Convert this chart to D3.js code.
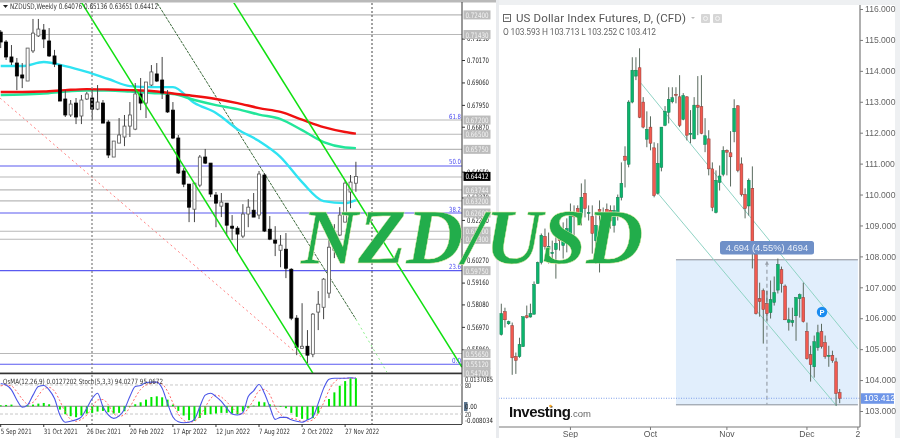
<!DOCTYPE html>
<html><head><meta charset="utf-8">
<script src="https://cdn.jsdelivr.net/npm/d3@7/dist/d3.min.js"></script>
<style>html,body{margin:0;padding:0;background:#fff;overflow:hidden}svg{display:block;filter:blur(0.35px)}</style>
</head><body><svg id="c" width="900" height="438"></svg>
<script>
// ---------- NZDUSD weekly (left) ----------
const nzdTitle = "NZDUSD,Weekly  0.64076 0.65136 0.63651 0.64412";
const nzdDates = ["5 Sep 2021","31 Oct 2021","26 Dec 2021","20 Feb 2022","17 Apr 2022","12 Jun 2022","7 Aug 2022","2 Oct 2022","27 Nov 2022"];
const nzdDateIdx = [0,8,16,24,32,40,48,56,64];
// open, high, low, close
const nzdOhlc = [
[.7155,.7165,.7076,.7106],[.7106,.7116,.7017,.7032],[.7032,.7091,.6992,.7007],[.7002,.7027,.6868,.6938],[.6943,.7002,.6878,.6928],
[.6913,.7076,.6913,.7076],[.7062,.7220,.7052,.7150],[.7136,.7220,.7131,.7170],[.7165,.7195,.7076,.7121],[.7111,.7175,.7032,.7037],
[.7037,.7067,.6982,.6997],[.6992,.6992,.6814,.6814],[.6824,.6868,.6735,.6745],[.6745,.6819,.6735,.6799],[.6804,.6829,.6700,.6735],
[.6740,.6844,.6700,.6819],[.6824,.6859,.6819,.6849],[.6829,.6868,.6720,.6774],[.6774,.6893,.6769,.6809],[.6804,.6819,.6705,.6705],
[.6710,.6720,.6532,.6547],[.6537,.6616,.6537,.6616],[.6606,.6730,.6606,.6646],[.6636,.6745,.6591,.6690],[.6690,.6809,.6636,.6745],
[.6675,.6903,.6670,.6849],[.6849,.6928,.6769,.6804],[.6804,.6908,.6730,.6908],[.6893,.6992,.6888,.6958],[.6948,.7002,.6908,.6913],
[.6918,.7032,.6824,.6854],[.6844,.6868,.6755,.6760],[.6769,.6809,.6626,.6631],[.6631,.6646,.6453,.6458],[.6468,.6482,.6388,.6403],
[.6403,.6403,.6215,.6289],[.6279,.6408,.6215,.6408],[.6398,.6547,.6388,.6537],[.6537,.6577,.6502,.6507],[.6507,.6507,.6339,.6354],
[.6349,.6364,.6190,.6309],[.6294,.6359,.6240,.6314],[.6309,.6309,.6146,.6200],[.6195,.6250,.6126,.6185],[.6185,.6195,.6062,.6156],
[.6146,.6304,.6136,.6255],[.6255,.6329,.6190,.6289],[.6274,.6359,.6240,.6240],[.6250,.6468,.6230,.6453],[.6448,.6458,.6166,.6171],
[.6180,.6245,.6126,.6131],[.6126,.6195,.6047,.6111],[.6076,.6151,.5992,.6101],[.6081,.6161,.5938,.5987],[.5982,.5987,.5730,.5740],
[.5740,.5755,.5557,.5596],[.5591,.5814,.5591,.5601],[.5601,.5681,.5517,.5557],[.5562,.5765,.5547,.5760],[.5770,.5874,.5681,.5809],
[.5794,.5938,.5735,.5933],[.5864,.6205,.5839,.6091],[.6076,.6205,.6037,.6146],[.6151,.6289,.6146,.6250],[.6215,.6423,.6215,.6408],
[.6364,.6448,.6284,.6413],[.64076,.65136,.63651,.64412]];
const maIdx  = [0,4,8,12,16,20,24,28,32,36,40,44,48,52,56,60,64,66];
const maCyan = [.6987,.6987,.7007,.6987,.6958,.6923,.6888,.6883,.6883,.6804,.6755,.6675,.6616,.6537,.6413,.6319,.6309,.6324];
const maRed  = [.6859,.6859,.6861,.6868,.6873,.6871,.6868,.6864,.6851,.6839,.6824,.6804,.6779,.6760,.6722,.6685,.6661,.6653];
const maGreen= [.6844,.6846,.6851,.6861,.6866,.6866,.6861,.6854,.6849,.6819,.6794,.6774,.6747,.6725,.6670,.6611,.6584,.6581];
const nzdTicks = [.7123,.7017,.6906,.6795,.6687,.6465,.6337,.6226,.6027,.5916,.5808,.5697,.5586];
const nzdGrayLevels = [.7240,.7143,.6720,.6650,.6575,.6438,.63744,.6320,.6170,.6130,.5565,.5470];
const nzdGrayLabels = [.7240,.7143,.6720,.6650,.6575,.63744,.6320,.6260,.6170,.6130,.5975,.5565,.5512,.5470];
const fibLevels = [.6493,.6260,.5975,.5512];
const fibNames = [["61.8",.6720],["50.0",.6493],["38.2",.6260],["23.6",.5975],["0.0",.5512]];
const limeLines = [[14.73,.7314,58.0,.5468],[43,.7314,85.7,.5498]];
const thinLine = [28.7,.7314,66,.5735];
const thinDotted = [66,.5735,71.76,.5473];
const redDotted = [-.13,.6829,57.1,.5518];
const osma = [.00045,.0006,.00075,0,0,.00045,.00075,.0012,.0015,.0009,0,-.0015,-.0036,-.0045,-.00495,-.0042,-.0033,-.003,-.0024,-.0021,-.0027,-.0033,-.003,-.00225,-.0003,.0009,.0018,.003,.0042,.0045,.00405,.003,.00075,-.0021,-.0042,-.0063,-.0066,-.00525,-.0039,-.0036,-.0033,-.003,-.003,-.0033,-.0036,-.0024,-.0009,.0003,.0021,.0018,.0009,.00015,-.0003,-.0009,-.003,-.0048,-.0057,-.006,-.0054,-.0033,0,.0033,.0063,.0093,.0114,.0127,.0127];
const stochMain = [83,80,70,49,34,39,59,77,79,70,52,18,3,5,8,14,32,52,63,35,18,11,16,30,56,77,79,85,86,86,73,42,14,4,2,3,9,35,59,63,56,46,32,20,18,23,56,68,81,63,35,9,13,13,8,5,3,8,14,42,73,92,94,94,94,95,94];
const stochSig = [78,80,78,66,51,41,44,58,72,75,67,47,24,9,5,9,18,33,49,50,39,21,15,19,34,54,71,80,83,86,82,67,43,20,7,3,5,16,34,52,59,55,45,33,23,20,32,49,68,71,60,35,19,12,11,9,5,5,8,21,43,69,86,93,94,94,95];
const subTitle = "OsMA(12,26,9) 0.0127202  Stoch(5,3,3) 94.0277 95.0672";

// ---------- US Dollar Index futures daily (right) ----------
const dxyTitle = "US Dollar Index Futures, D, (CFD)";
const dxyQuote = "O 103.593  H 103.713  L 103.252  C 103.412";
const dxyOhlc = [
[105.47,106.47,105.44,106.15],[106.21,106.34,105.70,105.95],[105.82,105.92,105.79,105.89],[105.76,105.86,104.17,104.72],[104.76,104.89,104.20,104.64],
[104.76,105.37,104.72,105.15],[105.08,106.05,105.08,106.05],[106.08,106.41,105.99,106.02],[106.04,106.47,106.02,106.15],[106.13,107.19,106.12,107.09],
[107.12,107.83,107.12,107.80],[107.80,108.74,107.74,108.68],[108.64,108.90,108.22,108.32],[108.22,108.77,107.77,108.32],[108.09,108.51,107.87,108.13],
[108.22,108.97,107.28,108.42],[108.61,109.06,108.19,108.51],[108.35,109.10,107.93,108.51],[108.58,109.23,108.13,108.90],[108.68,109.71,108.51,109.39],
[109.32,109.65,108.68,109.28],[109.55,109.65,109.16,109.39],[109.39,110.36,109.00,109.91],[110.04,110.49,109.26,109.55],[109.39,109.65,109.16,109.42],
[109.29,109.65,108.09,108.74],[108.51,109.42,107.77,109.00],[109.52,109.81,107.48,109.45],[109.10,109.58,108.90,109.42],[109.52,109.71,109.00,109.42],
[109.49,109.65,108.90,109.16],[109.00,109.65,108.77,109.49],[109.36,110.00,109.16,109.91],[109.91,111.04,109.81,110.36],[111.24,111.56,110.23,111.11],
[110.98,113.05,110.88,112.99],[112.99,114.44,112.95,114.02],[113.83,114.44,113.70,114.02],[114.10,114.73,112.47,112.50],[112.99,113.15,112.14,112.18],
[111.79,112.69,111.53,112.11],[112.18,112.53,111.43,111.66],[111.51,111.69,109.91,109.97],[110.04,111.66,110.00,111.01],[110.88,112.18,110.75,112.18],
[112.24,112.86,112.21,112.69],[112.66,113.47,112.30,113.08],[113.00,113.47,112.95,113.13],[113.24,113.47,112.95,113.21],[113.16,113.86,112.18,112.24],
[112.43,113.28,112.40,113.20],[113.16,113.18,111.75,111.92],[111.96,112.73,111.66,111.98],[111.80,113.15,111.79,112.89],[112.89,113.83,111.92,112.82],
[112.84,113.86,111.95,111.98],[111.62,112.47,111.37,111.90],[111.80,112.08,110.62,110.83],[110.83,111.04,109.46,109.58],[109.42,110.78,109.39,110.46],
[110.39,110.94,110.13,110.60],[110.65,111.56,110.59,111.43],[111.43,111.46,110.62,111.37],[111.35,112.05,110.26,111.22],[112.03,113.08,111.69,112.79],
[112.87,112.89,110.72,110.78],[110.99,111.20,109.94,110.00],[110.00,110.20,109.23,109.55],[109.63,110.52,109.32,110.46],[110.20,110.91,107.61,108.13],
[108.06,108.19,106.12,106.15],[106.63,107.15,106.05,106.54],[106.89,106.96,105.18,106.28],[106.47,106.89,105.92,106.15],[106.18,107.22,105.99,106.60],
[106.51,107.35,106.41,106.83],[106.91,107.93,106.80,107.74],[107.57,107.67,106.83,107.12],[107.04,107.09,105.94,105.95],[105.87,106.34,105.60,105.95],
[105.86,106.34,105.73,105.92],[106.08,106.67,105.27,106.67],[106.63,106.80,106.02,106.76],[106.67,107.15,105.86,105.89],[105.57,105.86,104.66,104.69],
[104.82,105.11,103.95,104.50],[104.43,105.44,104.08,105.24],[105.05,105.79,104.95,105.53],[105.57,105.82,105.02,105.08],[105.21,105.44,104.69,104.76],
[104.77,105.11,104.43,104.80],[104.80,104.95,104.56,104.63],[104.59,104.72,103.17,103.57],[103.593,103.713,103.252,103.412]];
const dxyTicks = [116,115,114,113,112,111,110,109,108,107,106,105,104,103];
const dxyMonths = ["Sep","Oct","Nov","Dec","2"];
const dxyMonthIdx = [19,41,62,84,98];
const dxyChannels = [[38.4,113.60,98,105.01],[43.05,110.04,92.2,103.16]];
const measureBox = {i0:48,i1:98,top:107.89,bottom:103.20,midIdx:73};
const measureLabel = "4.694 (4.55%) 4694";
const lastPrice = 103.412;
const bigTitle = "NZD/USD";

const svg = d3.select("#c");
const FONT = "'Liberation Sans',Arial,sans-serif";
const MT = "'DejaVu Sans',sans-serif";
const defs = svg.append("defs");
defs.append("clipPath").attr("id","lp").append("rect").attr("x",0).attr("y",3).attr("width",462).attr("height",370);
defs.append("clipPath").attr("id","lsub").append("rect").attr("x",0).attr("y",375).attr("width",462).attr("height",49);
defs.append("clipPath").attr("id","rp").append("rect").attr("x",499).attr("y",5).attr("width",361).attr("height",422);

// backgrounds
svg.append("rect").attr("width",900).attr("height",438).attr("fill","#fff");
svg.append("rect").attr("x",0).attr("y",0).attr("width",498).attr("height",2.5).attr("fill","#b9b9b9");
svg.append("rect").attr("x",498).attr("y",0).attr("width",402).attr("height",5).attr("fill","#eef0f2");
svg.append("rect").attr("x",496).attr("y",0).attr("width",3).attr("height",438).attr("fill","#e9ebee");
svg.append("rect").attr("x",895).attr("y",0).attr("width",5).attr("height",438).attr("fill","#eef0f2");

// ---------- left scales ----------
const xL = d3.scaleLinear().domain([0,66]).range([0.7,355.9]);
const yL = d3.scaleLinear().domain([.7017,.5586]).range([60,349.3]);
const ySt = d3.scaleLinear().domain([0,100]).range([423.7,375.3]);
const yOs = d3.scaleLinear().domain([-.008034,.0137085]).range([424,376]);

const lp = svg.append("g").attr("clip-path","url(#lp)");
// gray levels
lp.selectAll("line.g").data(nzdGrayLevels).join("line").attr("class","g").attr("x1",0).attr("x2",462)
  .attr("y1",d=>yL(d)).attr("y2",d=>yL(d)).attr("stroke","#b8b8b8").attr("stroke-width",1.1);
lp.selectAll("line.f").data(fibLevels).join("line").attr("class","f").attr("x1",0).attr("x2",462)
  .attr("y1",d=>yL(d)).attr("y2",d=>yL(d)).attr("stroke","#5a5af0").attr("stroke-width",1.1);

// verticals
[92,372].forEach((x,k)=>svg.append("line").attr("x1",x).attr("x2",x).attr("y1",3).attr("y2",424)
  .attr("stroke",k?"#444":"#888").attr("stroke-width",k?1:1.3).attr("stroke-dasharray","2,2"));

// trend lines
const seg = (g,s,st,w,dash)=>g.append("line").attr("x1",xL(s[0])).attr("y1",yL(s[1])).attr("x2",xL(s[2])).attr("y2",yL(s[3]))
  .attr("stroke",st).attr("stroke-width",w).attr("stroke-dasharray",dash||null);
seg(lp,redDotted,"#ff8080",1,"2,3");
seg(lp,thinLine,"#3d6b3d",1,"3,1");
seg(lp,thinDotted,"#8cf08c",1,"2,3");

// moving averages
const mk = (arr)=>d3.line().x((d,i)=>xL(maIdx[i])).y(d=>yL(d)).curve(d3.curveMonotoneX)(arr);
lp.append("path").attr("d",mk(maCyan)).attr("fill","none").attr("stroke","#2fe3f2").attr("stroke-width",2.4);
lp.append("path").attr("d",mk(maGreen)).attr("fill","none").attr("stroke","#22e69a").attr("stroke-width",2.4);
lp.append("path").attr("d",mk(maRed)).attr("fill","none").attr("stroke","#f01010").attr("stroke-width",2.4);

// candles
const cl = lp.selectAll("g.c").data(nzdOhlc).join("g").attr("class","c");
cl.append("line").attr("x1",(d,i)=>xL(i)).attr("x2",(d,i)=>xL(i)).attr("y1",d=>yL(d[1])).attr("y2",d=>yL(d[2])).attr("stroke","#444").attr("stroke-width",1);
cl.append("rect").attr("x",(d,i)=>xL(i)-1.5).attr("width",3)
  .attr("y",d=>yL(Math.max(d[0],d[3]))).attr("height",d=>Math.max(1,Math.abs(yL(d[0])-yL(d[3]))))
  .attr("fill",d=>d[3]>=d[0]?"#fff":"#000").attr("stroke",d=>d[3]>=d[0]?"#555":"#000").attr("stroke-width",.8);

limeLines.forEach(s=>seg(lp,s,"#10e010",1.5));

// left frame
svg.append("line").attr("x1",462).attr("x2",462).attr("y1",2).attr("y2",424).attr("stroke","#333");
svg.append("line").attr("x1",0).attr("x2",462).attr("y1",373.5).attr("y2",373.5).attr("stroke","#333").attr("stroke-width",1.5);
svg.append("line").attr("x1",0).attr("x2",462).attr("y1",424.5).attr("y2",424.5).attr("stroke","#444");

// left axis
const axL = svg.append("g").attr("transform","translate(462,0)").call(d3.axisRight(yL).tickValues(nzdTicks).tickFormat(d3.format(".5f")).tickSize(3));
axL.select(".domain").remove();
axL.selectAll("text").attr("font-family",MT).attr("font-size",7.5).attr("fill","#222").attr("dx",-1)
  .attr("textLength",22).attr("lengthAdjust","spacingAndGlyphs");
axL.selectAll("line").attr("stroke","#333");

// gray labels
const gl = svg.append("g").selectAll("g").data(nzdGrayLabels).join("g").attr("transform",d=>`translate(463.5,${yL(d)})`);
gl.append("rect").attr("x",0).attr("y",-4.5).attr("width",27).attr("height",9).attr("fill","#bcbcbc");
gl.append("text").attr("x",2).attr("y",3).attr("font-family",MT).attr("font-size",7.5).attr("fill","#f4f4f4")
  .attr("textLength",23).attr("lengthAdjust","spacingAndGlyphs").text(d=>d3.format(".5f")(d));
const last = nzdOhlc[nzdOhlc.length-1][3];
const blk = svg.append("g").attr("transform",`translate(463.5,${yL(last)})`);
blk.append("rect").attr("x",0).attr("y",-4.5).attr("width",27).attr("height",9).attr("fill","#000");
blk.append("text").attr("x",2).attr("y",3).attr("font-family",MT).attr("font-size",7.5).attr("fill","#fff")
  .attr("textLength",23).attr("lengthAdjust","spacingAndGlyphs").text(d3.format(".5f")(last));

// fib names
svg.append("g").selectAll("text").data(fibNames).join("text").attr("x",461).attr("y",d=>yL(d[1])-1.5)
 .attr("text-anchor","end").attr("font-family",MT).attr("font-size",7).attr("fill","#4a4af0")
 .attr("textLength",d=>d[0].length*3).attr("lengthAdjust","spacingAndGlyphs").text(d=>d[0]);

// title
svg.append("path").attr("d","M3,5 L8,5 L5.5,8 Z").attr("fill","#222");
svg.append("text").attr("x",10).attr("y",9).attr("font-family",MT).attr("font-size",7.6).attr("fill","#333").attr("textLength",148).attr("lengthAdjust","spacingAndGlyphs").text(nzdTitle);

// sub-panel
const sub = svg.append("g").attr("clip-path","url(#lsub)");
[80,20].forEach(v=>sub.append("line").attr("x1",0).attr("x2",462).attr("y1",ySt(v)).attr("y2",ySt(v)).attr("stroke","#c8c8c8").attr("stroke-dasharray","3,2"));
sub.append("line").attr("x1",0).attr("x2",462).attr("y1",yOs(0)).attr("y2",yOs(0)).attr("stroke","#888");
sub.selectAll("rect").data(osma).join("rect").attr("x",(d,i)=>xL(i)-1).attr("width",2)
  .attr("y",d=>Math.min(yOs(d),yOs(0))).attr("height",d=>Math.abs(yOs(d)-yOs(0))).attr("fill","#00e800");
const stLine = d3.line().x((d,i)=>xL(i)).y(d=>ySt(d)).curve(d3.curveMonotoneX);
sub.append("path").attr("d",stLine(stochSig)).attr("fill","none").attr("stroke","#ff6a6a").attr("stroke-width",1).attr("stroke-dasharray","2,2");
sub.append("path").attr("d",stLine(stochMain)).attr("fill","none").attr("stroke","#4a55e8").attr("stroke-width",1.1);
svg.append("text").attr("x",3).attr("y",384).attr("font-family",MT).attr("font-size",7.2).attr("fill","#333").attr("textLength",160).attr("lengthAdjust","spacingAndGlyphs").text(subTitle);

const subLabels = [["0.0137085",379.5,28],["80",385.5,6],["20",414.5,6],["-0.008034",420.5,28]];
svg.append("g").selectAll("text").data(subLabels).join("text").attr("x",465).attr("y",d=>d[1]+2.5)
  .attr("font-family",MT).attr("font-size",7.2).attr("fill","#222").attr("textLength",d=>d[2]).attr("lengthAdjust","spacingAndGlyphs").text(d=>d[0]);
svg.append("rect").attr("x",464).attr("y",402).attr("width",3.5).attr("height",9).attr("fill","#5c7690");
svg.append("text").attr("x",465).attr("y",409).attr("font-family",MT).attr("font-size",7.2).attr("fill","#222").attr("textLength",12).attr("lengthAdjust","spacingAndGlyphs").text("0.00");

// left date axis
const dl = svg.append("g").selectAll("g").data(nzdDates).join("g").attr("transform",(d,i)=>`translate(${xL(nzdDateIdx[i])},0)`);
dl.append("line").attr("y1",424).attr("y2",427).attr("stroke","#333");
dl.append("text").attr("x",0).attr("y",434).attr("font-family",MT).attr("font-size",7.3).attr("fill","#333")
  .attr("textLength",d=>d.length*3.1).attr("lengthAdjust","spacingAndGlyphs").text(d=>d);

// ---------- right ----------
const xR = d3.scaleLinear().domain([0,93]).range([501.3,839.7]);
const yR = d3.scaleLinear().domain([116,103]).range([9,411]);
const rp = svg.append("g").attr("clip-path","url(#rp)");
rp.append("rect").attr("x",xR(measureBox.i0)).attr("width",xR(measureBox.i1)-xR(measureBox.i0))
  .attr("y",yR(measureBox.top)).attr("height",yR(measureBox.bottom)-yR(measureBox.top)).attr("fill","#e1eefc");
[measureBox.top,measureBox.bottom].forEach(v=>rp.append("line").attr("x1",xR(measureBox.i0)).attr("x2",xR(measureBox.i1)).attr("y1",yR(v)).attr("y2",yR(v)).attr("stroke","#8a8f99"));
rp.append("line").attr("x1",xR(measureBox.midIdx)).attr("x2",xR(measureBox.midIdx)).attr("y1",yR(measureBox.top)+3).attr("y2",yR(measureBox.bottom))
  .attr("stroke","#99a0aa").attr("stroke-width",1.2).attr("stroke-dasharray","4,3");
rp.append("path").attr("d",`M${xR(measureBox.midIdx)-2},${yR(measureBox.top)+5} L${xR(measureBox.midIdx)},${yR(measureBox.top)+1} L${xR(measureBox.midIdx)+2},${yR(measureBox.top)+5}Z`).attr("fill","#99a0aa");
rp.append("line").attr("x1",491).attr("x2",860).attr("y1",yR(lastPrice)).attr("y2",yR(lastPrice)).attr("stroke","#7f9fe8").attr("stroke-width",1).attr("stroke-dasharray","1,1.5");
dxyChannels.forEach(s=>rp.append("line").attr("x1",xR(s[0])).attr("y1",yR(s[1])).attr("x2",xR(s[2])).attr("y2",yR(s[3])).attr("stroke","#8fd3c4").attr("stroke-width",1));

const cr = rp.selectAll("g.d").data(dxyOhlc).join("g").attr("class","d");
cr.append("line").attr("x1",(d,i)=>xR(i)).attr("x2",(d,i)=>xR(i)).attr("y1",d=>yR(d[1])).attr("y2",d=>yR(d[2])).attr("stroke","#5a6a5e").attr("stroke-width",1);
cr.append("rect").attr("x",(d,i)=>xR(i)-1.4).attr("width",2.8)
  .attr("y",d=>yR(Math.max(d[0],d[3]))).attr("height",d=>Math.max(1,Math.abs(yR(d[0])-yR(d[3]))))
  .attr("fill",d=>d[3]>=d[0]?"#0bb56c":"#f25a50").attr("stroke",d=>d[3]>=d[0]?"#127a50":"#8a3a34").attr("stroke-width",.5);

// right axes
svg.append("line").attr("x1",860).attr("x2",860).attr("y1",5).attr("y2",427).attr("stroke","#7a7a7a").attr("stroke-width",1.2);
const axR = svg.append("g").attr("transform","translate(860,0)").call(d3.axisRight(yR).tickValues(dxyTicks).tickFormat(d3.format(".3f")).tickSize(3));
axR.select(".domain").remove();
axR.selectAll("text").attr("font-family",FONT).attr("font-size",8.6).attr("fill","#666").attr("dx",-1);
axR.selectAll("line").attr("stroke","#7a7a7a");
svg.append("line").attr("x1",499).attr("x2",860).attr("y1",427).attr("y2",427).attr("stroke","#7a7a7a").attr("stroke-width",1.2);
const mt = svg.append("g").selectAll("g").data(dxyMonths).join("g").attr("transform",(d,i)=>`translate(${xR(dxyMonthIdx[i])},0)`);
mt.append("line").attr("y1",427).attr("y2",430).attr("stroke","#7a7a7a");
mt.append("text").attr("y",437).attr("text-anchor","middle").attr("font-family",FONT).attr("font-size",8.6).attr("fill","#555").text(d=>d);

// last price tag
svg.append("rect").attr("x",861).attr("y",yR(lastPrice)-5).attr("width",33).attr("height",10.5).attr("fill","#6f96e8");
svg.append("text").attr("x",864).attr("y",yR(lastPrice)+3).attr("font-family",FONT).attr("font-size",8.6).attr("fill","#fff").text(d3.format(".3f")(lastPrice));

// measure label
svg.append("rect").attr("x",720).attr("y",241).attr("width",94).attr("height",13.5).attr("rx",2.5).attr("fill","#6f90c8");
svg.append("text").attr("x",767).attr("y",251).attr("text-anchor","middle").attr("font-family",FONT).attr("font-size",9.4).attr("fill","#e8eef8").text(measureLabel);

// P marker
svg.append("circle").attr("cx",822).attr("cy",312).attr("r",5.2).attr("fill","#1a8cf0");
svg.append("text").attr("x",822).attr("y",315).attr("text-anchor","middle").attr("font-family",FONT).attr("font-weight",700).attr("font-size",7.5).attr("fill","#fff").text("P");

// header
svg.append("rect").attr("x",503.5).attr("y",14.5).attr("width",7).attr("height",7).attr("fill","none").attr("stroke","#666");
svg.append("line").attr("x1",505).attr("x2",509).attr("y1",18).attr("y2",18).attr("stroke","#666");
svg.append("text").attr("x",516).attr("y",22).attr("font-family","Roboto,"+FONT).attr("font-size",11.5).attr("fill","#555").attr("textLength",170).attr("lengthAdjust","spacing").text(dxyTitle);
svg.append("path").attr("d","M691,17 L695,17 L693,19Z").attr("fill","#bbb");
svg.append("text").attr("x",503).attr("y",35).attr("font-family","Roboto,"+FONT).attr("font-size",8.4).attr("fill","#666").attr("textLength",153).attr("lengthAdjust","spacing").text(dxyQuote);
[701,713].forEach(x=>{svg.append("rect").attr("x",x).attr("y",14).attr("width",9).attr("height",9).attr("rx",1).attr("fill","#d6d6d6");
  svg.append("circle").attr("cx",x+4.5).attr("cy",18.5).attr("r",2).attr("fill","none").attr("stroke","#f4f4f4");});

// logo
const logo = svg.append("text").attr("x",509).attr("y",417);
logo.append("tspan").attr("font-family",FONT).attr("font-weight",700).attr("font-size",15).attr("fill","#111").attr("letter-spacing",-.5).text("Investing");
logo.append("tspan").attr("font-family",FONT).attr("font-size",9.5).attr("fill","#666").text(".com");
svg.append("circle").attr("cx",550.5).attr("cy",406).attr("r",1.3).attr("fill","#f5a623");

// big overlay
svg.append("text").attr("x",301).attr("y",263).attr("font-family","'Liberation Serif',serif").attr("font-style","italic").attr("font-weight",700)
  .attr("font-size",79).attr("fill","#22ad4b").attr("stroke","#f2f0b0").attr("stroke-width",.4).text(bigTitle);
</script></body></html>
